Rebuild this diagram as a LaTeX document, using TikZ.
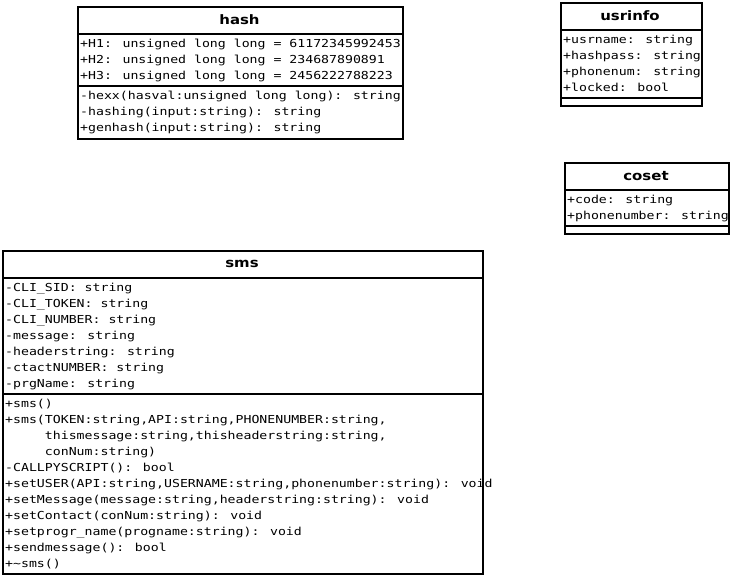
\documentclass[tikz,border=0pt]{standalone}
\usepackage{fontspec}
\newfontfamily\umlmono{DejaVu Sans Mono}[FakeStretch=1.2]
\newfontfamily\umltitle{DejaVu Sans}[FakeStretch=1.15]

% one node per member line, baselines 16pt apart
\newcommand\memberlines[4]{%
  \foreach \t [count=\i] in {#4} {%
    \node[member] (#1-\i) at ({#2},{#3+16*(\i-1)}) {\t};
  }%
}
\newcommand\indentmono{\phantom{xxxxx}}

\begin{document}
\begin{tikzpicture}[x=1pt,y=-1pt,
  classbox/.style={draw, line width=1.6pt, anchor=north west, inner sep=0pt, fill=white},
  sepline/.style={line width=1.6pt},
  classtitle/.style={font=\umltitle\bfseries\fontsize{13}{15}\selectfont, inner sep=0pt},
  member/.style={font=\umlmono\fontsize{11}{16}\selectfont, anchor=base west, inner sep=0pt}]

\fill[white] (0,0) rectangle (730,576);
\useasboundingbox (0,0) rectangle (730,576);

% class hash
\node[classbox, minimum width=325pt, minimum height=132pt] (hash) at (77,6) {};
\node[classtitle] (hashtitle) at (239.5,20) {hash};
\draw[sepline] (hash.west |- 0,34) -- (hash.east |- 0,34);
\draw[sepline] (hash.west |- 0,86) -- (hash.east |- 0,86);
\memberlines{hashattr}{80}{47}{%
  {+H1: unsigned long long = 61172345992453},
  {+H2: unsigned long long = 234687890891},
  {+H3: unsigned long long = 2456222788223}}
\memberlines{hashop}{80}{99}{%
  {-hexx(hasval:unsigned long long): string},
  {-hashing(input:string): string},
  {+genhash(input:string): string}}

% class usrinfo
\node[classbox, minimum width=141pt, minimum height=103pt] (usrinfo) at (560,2) {};
\node[classtitle] (usrinfotitle) at (630,16) {usrinfo};
\draw[sepline] (usrinfo.west |- 0,30) -- (usrinfo.east |- 0,30);
\draw[sepline] (usrinfo.west |- 0,98) -- (usrinfo.east |- 0,98);
\memberlines{usrinfoattr}{563}{43}{%
  {+usrname: string},
  {+hashpass: string},
  {+phonenum: string},
  {+locked: bool}}

% class coset
\node[classbox, minimum width=164pt, minimum height=71pt] (coset) at (564,162) {};
\node[classtitle] (cosettitle) at (646,176) {coset};
\draw[sepline] (coset.west |- 0,190) -- (coset.east |- 0,190);
\draw[sepline] (coset.west |- 0,226) -- (coset.east |- 0,226);
\memberlines{cosetattr}{567}{203}{%
  {+code: string},
  {+phonenumber: string}}

% class sms
\node[classbox, minimum width=480pt, minimum height=323pt] (sms) at (2,250) {};
\node[classtitle] (smstitle) at (242,264) {sms};
\draw[sepline] (sms.west |- 0,278) -- (sms.east |- 0,278);
\draw[sepline] (sms.west |- 0,394) -- (sms.east |- 0,394);
\memberlines{smsattr}{5}{291}{%
  {-CLI\_SID: string},
  {-CLI\_TOKEN: string},
  {-CLI\_NUMBER: string},
  {-message: string},
  {-headerstring: string},
  {-ctactNUMBER: string},
  {-prgName: string}}
\memberlines{smsop}{5}{407}{%
  {+sms()},
  {+sms(TOKEN:string,API:string,PHONENUMBER:string,},
  {\indentmono thismessage:string,thisheaderstring:string,},
  {\indentmono conNum:string)},
  {-CALLPYSCRIPT(): bool},
  {+setUSER(API:string,USERNAME:string,phonenumber:string): void},
  {+setMessage(message:string,headerstring:string): void},
  {+setContact(conNum:string): void},
  {+setprogr\_name(progname:string): void},
  {+sendmessage(): bool},
  {+\textasciitilde sms()}}

\end{tikzpicture}
\end{document}
